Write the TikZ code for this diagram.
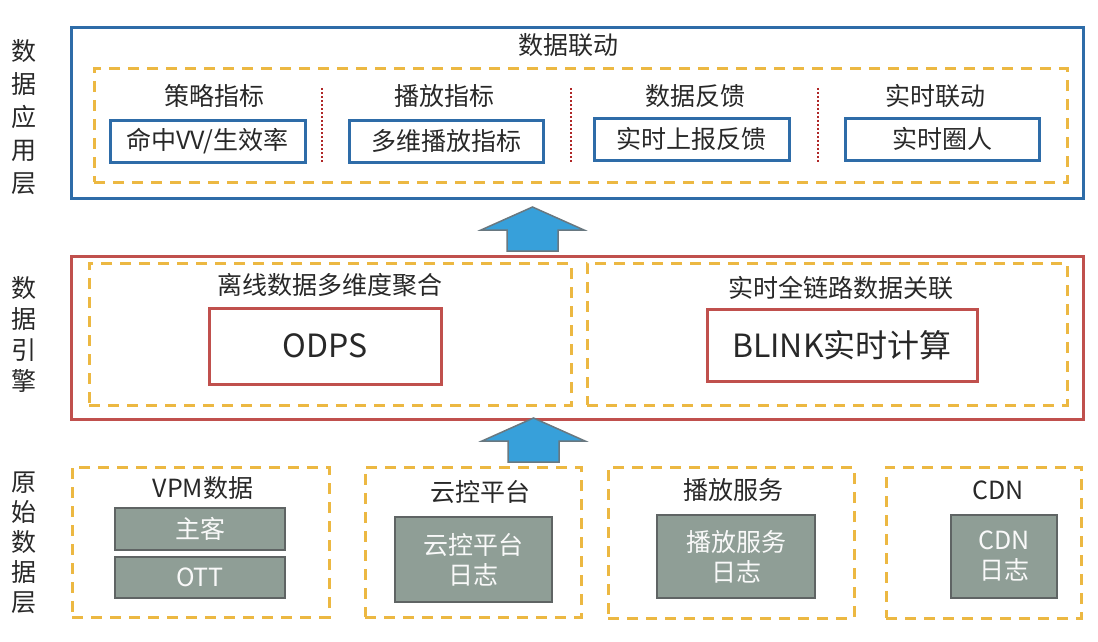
\documentclass[tikz,border=0pt]{standalone}
\usepackage{fontspec}
\setmainfont{Noto Sans CJK SC}
\definecolor{bblue}{RGB}{46,108,168}
\definecolor{rred}{RGB}{192,80,77}
\definecolor{yel}{RGB}{236,184,66}
\definecolor{dred}{RGB}{175,40,40}
\definecolor{arrfill}{RGB}{55,160,218}
\definecolor{arrline}{RGB}{105,120,128}
\definecolor{gfill}{RGB}{143,158,150}
\definecolor{gline}{RGB}{95,100,100}
\definecolor{txt}{RGB}{40,40,40}
\tikzset{
  base/.style={anchor=north west, inner sep=0pt, outer sep=0pt, align=center, text=txt},
  bluebox/.style={base, draw=bblue, line width=3pt},
  redbox/.style={base, draw=rred, line width=3pt},
  yelbox/.style={base, draw=yel, line width=3pt, dash pattern=on 11pt off 8pt},
  graybox/.style={base, draw=gline, fill=gfill, line width=2.5pt, text=white!95!gray},
  ftxt/.style={font=\fontsize{25}{30}\selectfont},
  btxt/.style={font=\fontsize{32}{36}\selectfont},
  lbl/.style={text=txt, inner sep=0pt, font=\fontsize{25}{30}\selectfont},
  side/.style={text=txt, inner sep=0pt, align=center},
  sep/.style={draw=dred, line width=2pt, dash pattern=on 2pt off 2pt},
  blockarrow/.style={fill=arrfill, draw=arrline, line width=1.5pt, line join=miter}
}
\begin{document}
\begin{tikzpicture}[x=1pt, y=-1pt]
\useasboundingbox (0,0) rectangle (1098,642);

% ---------- side labels ----------
\node[side, font=\fontsize{25}{33}\selectfont] (sA) at (24,117) {数\\据\\应\\用\\层};
\node[side, font=\fontsize{25}{31}\selectfont] (sB) at (24,334) {数\\据\\引\\擎};
\node[side, font=\fontsize{25}{30}\selectfont] (sC) at (24,543) {原\\始\\数\\据\\层};

% ---------- application layer ----------
\node[bluebox, minimum width=1012, minimum height=170] (app) at (71,28) {};
\node[lbl] (appT) at (568,45) {数据联动};
\node[yelbox, minimum width=973, minimum height=113] (appD) at (94,69) {};
\node[lbl] (t1) at (214,96) {策略指标};
\node[lbl] (t2) at (444,96) {播放指标};
\node[lbl] (t3) at (695,96) {数据反馈};
\node[lbl] (t4) at (935,96) {实时联动};
\node[bluebox, ftxt, minimum width=195, minimum height=42] (b1) at (110,120) {命中VV/生效率};
\node[bluebox, ftxt, minimum width=194, minimum height=42] (b2) at (349,120) {多维播放指标};
\node[bluebox, ftxt, minimum width=195, minimum height=42] (b3) at (594,118) {实时上报反馈};
\node[bluebox, ftxt, minimum width=194, minimum height=42] (b4) at (845,118) {实时圈人};
\coordinate (d1a) at (322,88); \coordinate (d1b) at (322,162);
\coordinate (d2a) at (571,88); \coordinate (d2b) at (571,162);
\coordinate (d3a) at (818,88); \coordinate (d3b) at (818,162);
\draw[sep] (d1a) -- (d1b);
\draw[sep] (d2a) -- (d2b);
\draw[sep] (d3a) -- (d3b);

% ---------- arrow engine -> app ----------
\draw[blockarrow] (507,251) -- (507,230) -- (481,230) -- (532.5,207) -- (584,230) -- (558,230) -- (558,251) -- cycle;

% ---------- engine layer ----------
\node[redbox, minimum width=1012, minimum height=163] (eng) at (71,256) {};
\node[yelbox, minimum width=482, minimum height=142] (engL) at (89,263) {};
\node[yelbox, minimum width=480, minimum height=142] (engR) at (587,263) {};
\node[lbl] (eLT) at (330,285) {离线数据多维度聚合};
\node[lbl] (eRT) at (841,288) {实时全链路数据关联};
\node[redbox, btxt, minimum width=232, minimum height=76] (odps) at (209,308) {ODPS};
\node[redbox, btxt, minimum width=270, minimum height=72] (blink) at (707,309) {BLINK实时计算};

% ---------- arrow raw -> engine ----------
\draw[blockarrow] (508,462) -- (508,441) -- (482,441) -- (533.5,418) -- (585,441) -- (559,441) -- (559,462) -- cycle;

% ---------- raw layer ----------
\node[yelbox, minimum width=257, minimum height=150] (r1) at (72,467) {};
\node[yelbox, minimum width=216, minimum height=150] (r2) at (365,467) {};
\node[yelbox, minimum width=246, minimum height=151] (r3) at (608,467) {};
\node[yelbox, minimum width=195, minimum height=151] (r4) at (886,467) {};
\node[lbl] (r1T) at (203,488) {VPM数据};
\node[lbl] (r2T) at (480,492) {云控平台};
\node[lbl] (r3T) at (733,490) {播放服务};
\node[lbl] (r4T) at (998,490) {CDN};
\node[graybox, ftxt, minimum width=170, minimum height=42] (g1) at (115,508) {主客};
\node[graybox, ftxt, minimum width=170, minimum height=41] (g2) at (115,557) {OTT};
\node[graybox, ftxt, minimum width=157, minimum height=85] (g3) at (395,517) {云控平台\\日志};
\node[graybox, ftxt, minimum width=158, minimum height=83] (g4) at (657,515) {播放服务\\日志};
\node[graybox, ftxt, minimum width=106, minimum height=83] (g5) at (951,515) {CDN\\日志};
\end{tikzpicture}
\end{document}
